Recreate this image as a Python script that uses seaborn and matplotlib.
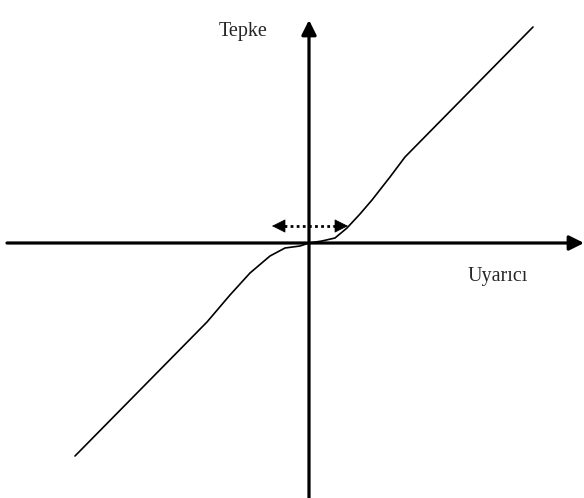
import matplotlib
matplotlib.use("Agg")
import matplotlib.pyplot as plt
import seaborn as sns
import pandas as pd

# response curve (x: stimulus, y: response), origin at the axis crossing
curve_x = [-234, -102, -79, -59, -39, -24, -9, 0, 13, 26, 38, 51, 63, 81, 96, 224]
curve_y = [-213, -79, -52, -30, -13, -5, -3, 0, 2, 5, 15, 29, 43, 66, 86, 216]

# dotted double arrow (threshold zone)
zone_x = [-37, 39]
zone_y = 17

x_label = "Uyarıcı"
y_label = "Tepke"

sns.set_style("white")
plt.rcParams['font.family'] = ['Liberation Serif', 'DejaVu Serif']

fig = plt.figure(figsize=(5.84, 4.98), dpi=100)
ax = fig.add_axes([0, 0, 1, 1])
ax.set_xlim(-309, 275)
ax.set_ylim(-255, 243)
ax.axis('off')

# axes with arrows
ax.annotate("", xy=(275, 0), xytext=(-302, 0),
            arrowprops=dict(arrowstyle='-|>', lw=2.3, color='black',
                            mutation_scale=22, shrinkA=0, shrinkB=0))
ax.annotate("", xy=(0, 223), xytext=(0, -255),
            arrowprops=dict(arrowstyle='-|>', lw=2.3, color='black',
                            mutation_scale=22, shrinkA=0, shrinkB=0))

df = pd.DataFrame({"x": curve_x, "y": curve_y})
sns.lineplot(data=df, x="x", y="y", sort=False, color='black', lw=1.2, ax=ax)

# threshold arrow
ax.plot([zone_x[0] + 12, zone_x[1] - 12], [zone_y, zone_y], color='black',
        lw=2, linestyle=(0, (1, 1.2)))
for tip, base in [(zone_x[0], zone_x[0] + 15), (zone_x[1], zone_x[1] - 15)]:
    ax.annotate("", xy=(tip, zone_y), xytext=(base, zone_y),
                arrowprops=dict(arrowstyle='-|>', lw=0.5, color='black',
                                mutation_scale=22, shrinkA=0, shrinkB=0))

ax.text(-66, 212, y_label, fontsize=14.5, ha='center', va='center')
ax.text(189, -33, x_label, fontsize=14.5, ha='center', va='center')

ax.set_xlabel("")
ax.set_ylabel("")
fig.savefig("out.png", dpi=100)
